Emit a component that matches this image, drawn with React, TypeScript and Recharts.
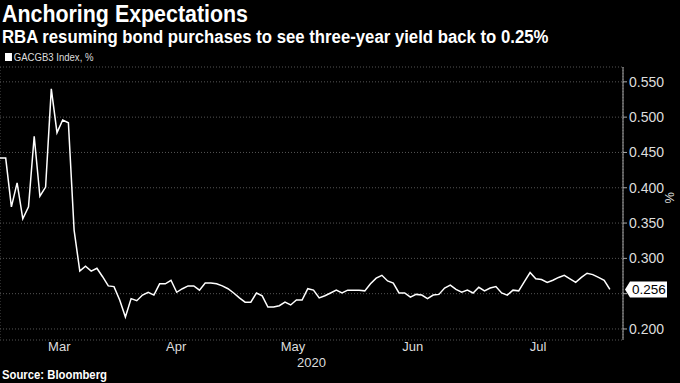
import React from 'react';
import { LineChart, Line, XAxis, YAxis, CartesianGrid, ReferenceLine } from 'recharts';

// GACGB3 Index, one value per trading day from early March to early August 2020
const yields = [
    0.442, 0.442, 0.373, 0.407, 0.356, 0.373, 0.473, 0.388, 0.401, 0.540,
    0.478, 0.496, 0.492, 0.340, 0.282, 0.289, 0.282, 0.286, 0.274, 0.261,
    0.260, 0.241, 0.217, 0.243, 0.240, 0.248, 0.252, 0.248, 0.264, 0.264,
    0.269, 0.252, 0.257, 0.261, 0.261, 0.255, 0.265, 0.265, 0.264, 0.261,
    0.257, 0.251, 0.244, 0.238, 0.238, 0.251, 0.247, 0.231, 0.231, 0.233,
    0.238, 0.234, 0.241, 0.241, 0.257, 0.255, 0.244, 0.247, 0.251, 0.255,
    0.251, 0.255, 0.255, 0.255, 0.254, 0.264, 0.272, 0.276, 0.268, 0.265,
    0.251, 0.251, 0.245, 0.249, 0.248, 0.243, 0.248, 0.249, 0.258, 0.262,
    0.256, 0.252, 0.255, 0.251, 0.259, 0.254, 0.258, 0.260, 0.251, 0.248,
    0.255, 0.254, 0.267, 0.280, 0.271, 0.270, 0.266, 0.269, 0.273, 0.276,
    0.271, 0.266, 0.273, 0.279, 0.277, 0.273, 0.269, 0.256,
];

const monthLabels = ['Mar', 'Apr', 'May', 'Jun', 'Jul'];
const monthMids = [11.4, 31.9, 52.4, 73.4, 95.4];
const monthStarts = [21.9, 41.9, 62.9, 83.9, 106.9];
const yTicks = [0.2, 0.25, 0.3, 0.35, 0.4, 0.45, 0.5, 0.55];

const data = yields.map((v, k) => ({ day: k + 1, value: v }));
const lastValue = yields[yields.length - 1];

const FONT = '"Liberation Sans", Arial, sans-serif';
const X_DOMAIN = [1, 110.3];

const narrow = (sx: number): React.CSSProperties => ({
    transform: `scaleX(${sx})`,
    transformOrigin: '0 50%',
    whiteSpace: 'nowrap',
});

const LastValueTag = (props: any) => {
    const { viewBox } = props;
    const x = viewBox.x + viewBox.width + 2;
    const y = viewBox.y;
    const w = 37;
    const h = 16;
    return (
        <g>
            <polygon
                points={`${x},${y} ${x + 5},${y - h / 2} ${x + 5 + w},${y - h / 2} ${x + 5 + w},${y + h / 2} ${x + 5},${y + h / 2}`}
                fill="#fff"
            />
            <text x={x + 7} y={y + 5} fill="#000" fontSize={13.5} fontFamily={FONT}>
                {lastValue.toFixed(3)}
            </text>
        </g>
    );
};

const App: React.FC = () => {
    return (
        <div style={{ position: 'absolute', left: 0, top: 0, width: 680, height: 383, background: '#000', fontFamily: FONT, overflow: 'hidden' }}>
            <div style={{ position: 'absolute', left: 2, top: 1, color: '#fff', fontSize: 23, fontWeight: 'bold', ...narrow(0.93) }}>
                Anchoring Expectations
            </div>
            <div style={{ position: 'absolute', left: 2, top: 27, color: '#fff', fontSize: 18, fontWeight: 'bold', ...narrow(0.93) }}>
                RBA resuming bond purchases to see three-year yield back to 0.25%
            </div>
            <div style={{ position: 'absolute', left: 5, top: 51, color: '#ddd', fontSize: 11, display: 'flex', alignItems: 'center', ...narrow(0.87) }}>
                <span style={{ display: 'inline-block', width: 8, height: 8, background: '#fff', marginRight: 2 }} />
                GACGB3 Index, %
            </div>
            <div style={{ position: 'absolute', left: 2, top: 367, color: '#fff', fontSize: 13, fontWeight: 'bold', ...narrow(0.87) }}>
                Source: Bloomberg
            </div>

            <LineChart width={680} height={383} data={data} margin={{ top: 67, right: 0, bottom: 0, left: 0 }} style={{ position: 'absolute', left: 0, top: 0 }}>
                <CartesianGrid xAxisId="b" stroke="#555" strokeDasharray="1 2" />
                <XAxis
                    xAxisId="b"
                    dataKey="day"
                    type="number"
                    domain={X_DOMAIN}
                    ticks={monthStarts}
                    allowDataOverflow
                    tick={false}
                    tickSize={3}
                    height={0}
                    stroke="#aaa"
                />
                <XAxis
                    xAxisId="lbl"
                    dataKey="day"
                    type="number"
                    domain={X_DOMAIN}
                    ticks={monthMids}
                    allowDataOverflow
                    tickFormatter={(v: number) => monthLabels[monthMids.indexOf(v)]}
                    axisLine={false}
                    tickLine={false}
                    tick={{ fill: '#ddd', fontSize: 13, fontFamily: FONT, dy: -4 }}
                    tickMargin={0}
                    height={43}
                    label={{ value: '2020', position: 'insideBottom', offset: 16, fill: '#ddd', fontSize: 13, fontFamily: FONT }}
                />
                <YAxis
                    orientation="right"
                    type="number"
                    domain={[0.1844, 0.571]}
                    ticks={yTicks}
                    allowDataOverflow
                    width={57}
                    stroke="#aaa"
                    tickSize={4}
                    tickMargin={2}
                    tick={{ fill: '#ddd', fontSize: 14, fontFamily: FONT }}
                    tickFormatter={(v: number) => (Math.abs(v - 0.25) < 1e-9 ? '' : v.toFixed(3))}
                    label={{ value: '%', angle: 90, position: 'insideRight', offset: 10, fill: '#ddd', fontSize: 13, fontFamily: FONT }}
                />
                <ReferenceLine xAxisId="b" y={lastValue} stroke="none" label={<LastValueTag />} />
                <Line
                    xAxisId="b"
                    type="linear"
                    dataKey="value"
                    stroke="#fff"
                    strokeWidth={1.5}
                    dot={false}
                    isAnimationActive={false}
                />
            </LineChart>
        </div>
    );
};

export default App;
